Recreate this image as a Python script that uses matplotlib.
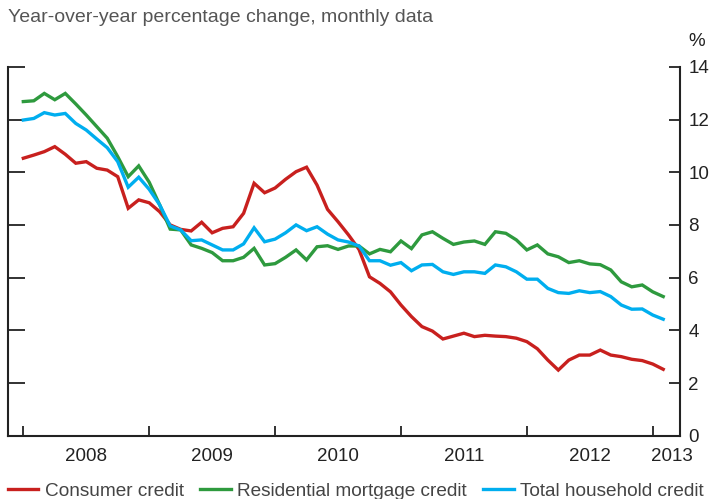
import matplotlib.pyplot as plt
import numpy as np

plt.rcParams['font.family'] = ['Liberation Sans', 'DejaVu Sans']

# monthly, Jan 2008 .. Feb 2013 (year-over-year % change)
consumer = [10.53, 10.65, 10.78, 10.97, 10.68, 10.34, 10.40, 10.15, 10.08, 9.83,
            8.63, 8.95, 8.84, 8.50, 8.00, 7.83, 7.77, 8.10, 7.70, 7.87,
            7.93, 8.44, 9.58, 9.22, 9.40, 9.73, 10.02, 10.19, 9.51, 8.59,
            8.12, 7.62, 7.07, 6.03, 5.78, 5.46, 4.96, 4.52, 4.14, 3.97,
            3.67, 3.78, 3.89, 3.76, 3.81, 3.78, 3.76, 3.70, 3.57, 3.30,
            2.87, 2.49, 2.87, 3.06, 3.06, 3.25, 3.06, 3.00, 2.90, 2.85,
            2.72, 2.52]
mortgage = [12.68, 12.71, 12.99, 12.75, 12.99, 12.59, 12.17, 11.73, 11.29, 10.59,
            9.83, 10.24, 9.62, 8.76, 7.84, 7.81, 7.24, 7.11, 6.95, 6.64,
            6.64, 6.77, 7.11, 6.48, 6.53, 6.77, 7.05, 6.67, 7.17, 7.21,
            7.07, 7.20, 7.20, 6.90, 7.07, 6.98, 7.39, 7.10, 7.62, 7.74,
            7.49, 7.26, 7.35, 7.39, 7.26, 7.74, 7.68, 7.43, 7.05, 7.24,
            6.90, 6.79, 6.57, 6.64, 6.52, 6.49, 6.29, 5.84, 5.65, 5.72,
            5.46, 5.28]
household = [11.98, 12.04, 12.26, 12.17, 12.23, 11.85, 11.60, 11.26, 10.93, 10.40,
             9.43, 9.81, 9.35, 8.76, 7.96, 7.81, 7.40, 7.43, 7.24, 7.05,
             7.05, 7.28, 7.89, 7.36, 7.46, 7.70, 8.00, 7.78, 7.93, 7.65,
             7.43, 7.35, 7.20, 6.64, 6.64, 6.47, 6.57, 6.26, 6.48, 6.50,
             6.22, 6.12, 6.22, 6.22, 6.16, 6.48, 6.41, 6.22, 5.94, 5.94,
             5.59, 5.43, 5.40, 5.50, 5.43, 5.47, 5.28, 4.96, 4.80, 4.81,
             4.58, 4.42]
years = ['2008', '2009', '2010', '2011', '2012', '2013']
year_pos = [6, 18, 30, 42, 54, 61.8]

red = '#c8201e'
green = '#2e9a3e'
blue = '#00aeef'
ink = '#222222'

x = np.arange(len(consumer))

fig = plt.figure(figsize=(7.2, 4.99), dpi=100)
ax = fig.add_axes([8 / 720, 1 - 435.7 / 499, 672 / 720, 368.9 / 499])

ax.plot(x, consumer, color=red, lw=2.4, label='Consumer credit', solid_joinstyle='miter')
ax.plot(x, mortgage, color=green, lw=2.4, label='Residential mortgage credit', solid_joinstyle='miter')
ax.plot(x, household, color=blue, lw=2.4, label='Total household credit', solid_joinstyle='miter')

ax.set_xlim(-1.46, 62.6)
ax.set_ylim(0, 14)

ax.spines['top'].set_visible(False)
for s in ['left', 'right', 'bottom']:
    ax.spines[s].set_linewidth(1.5)
    ax.spines[s].set_color(ink)

ax.set_yticks(np.arange(0, 15, 2))
ax.yaxis.set_ticks_position('both')
ax.tick_params(axis='y', which='major', direction='in', length=8, width=1.3,
               colors=ink, labelleft=False, labelright=True, labelsize=13.5, pad=6)

ax.set_xticks([0, 12, 24, 36, 48, 60])
ax.set_xticks(year_pos, minor=True)
ax.set_xticklabels([], minor=False)
ax.set_xticklabels(years, minor=True)
ax.tick_params(axis='x', which='major', direction='in', length=7, width=1.3, colors=ink)
ax.tick_params(axis='x', which='minor', length=0, labelsize=13.5, pad=9, labelcolor=ink)
# left ticks a little longer
for t in ax.yaxis.get_major_ticks():
    t.tick1line.set_markersize(12)

fig.text(8 / 720, 1 - 18 / 499, 'Year-over-year percentage change, monthly data',
         fontsize=14, color='#555555', va='center', ha='left')
fig.text(697 / 720, 1 - 42 / 499, '%', fontsize=13.5, color=ink, va='center', ha='center')

fig.legend(loc='center left', bbox_to_anchor=(8 / 720, 1 - 491 / 499), ncol=3,
           frameon=False, fontsize=13.7, handlelength=1.6, handletextpad=0.35,
           columnspacing=0.85, labelcolor='#444444', borderaxespad=0, borderpad=0)

fig.savefig('out.png', dpi=100)
